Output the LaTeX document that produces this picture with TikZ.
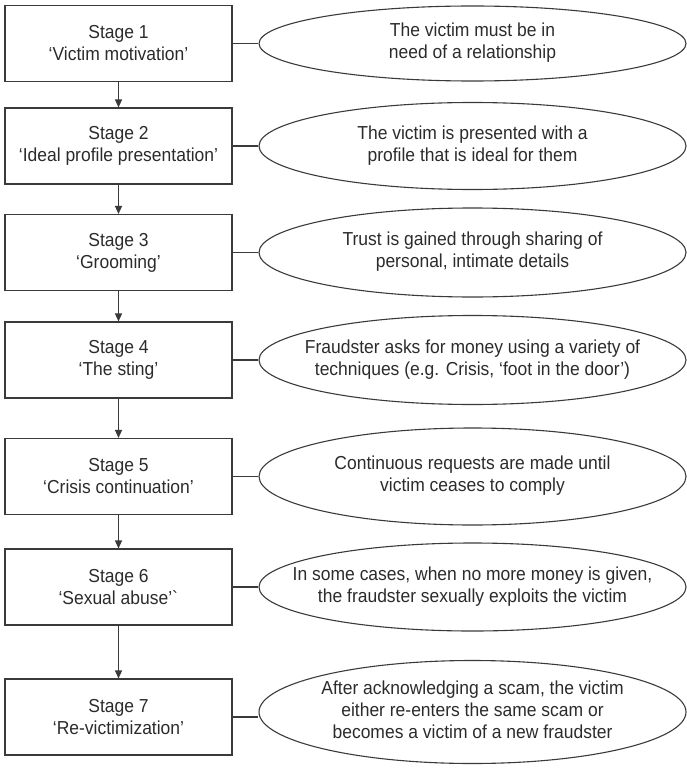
\documentclass[tikz,border=0pt]{standalone}
\usepackage{fontspec}
\setmainfont{Liberation Sans}[FakeStretch=0.93]
\usetikzlibrary{arrows.meta,shapes.geometric}

\definecolor{linegray}{HTML}{3A3A3A}
\definecolor{textgray}{HTML}{2B2B2B}

% text of a bubble, kept out of the ellipse's size
\newcommand{\bubbletext}[1]{\makebox[0pt]{\begin{tabular}{@{}c@{}}#1\end{tabular}}}

\tikzset{
  stagebox/.style={draw=linegray, line width=1.1pt, minimum width=227pt,
    minimum height=76pt, inner sep=0pt, align=center, text=textgray},
  notebubble/.style={ellipse, draw=linegray, line width=1.1pt,
    minimum width=427pt, inner sep=0pt, text=textgray},
  flow/.style={draw=linegray, line width=1.1pt, -{Triangle[length=8pt,width=7pt]}},
  link/.style={draw=linegray, line width=1.1pt}
}

\begin{document}
\begin{tikzpicture}[x=1pt, y=-1pt, font=\fontsize{18.8}{22}\selectfont]
  \useasboundingbox (0,0) rectangle (687,773);

  % stages
  \node[stagebox] (s1) at (118.5,43.5) {Stage 1\\‘Victim motivation’};
  \node[stagebox] (s2) at (118.5,146) {Stage 2\\‘Ideal profile presentation’};
  \node[stagebox] (s3) at (118.5,252.5) {Stage 3\\‘Grooming’};
  \node[stagebox] (s4) at (118.5,360) {Stage 4\\‘The sting’};
  \node[stagebox] (s5) at (118.5,476.5) {Stage 5\\‘Crisis continuation’};
  \node[stagebox] (s6) at (118.5,587) {Stage 6\\‘Sexual abuse’\textasciigrave};
  \node[stagebox] (s7) at (118.5,717) {Stage 7\\‘Re-victimization’};

  % descriptions
  \node[notebubble, minimum height=75pt] (e1) at (472.5,43.5)
    {\bubbletext{The victim must be in\\need of a relationship}};
  \node[notebubble, minimum height=87pt] (e2) at (472.5,146)
    {\bubbletext{The victim is presented with a\\profile that is ideal for them}};
  \node[notebubble, minimum height=89pt] (e3) at (472.5,252.5)
    {\bubbletext{Trust is gained through sharing of\\personal, intimate details}};
  \node[notebubble, minimum height=89pt] (e4) at (472.5,360)
    {\bubbletext{Fraudster asks for money using a variety of\\techniques (e.g. Crisis, ‘foot in the door’)}};
  \node[notebubble, minimum height=97pt] (e5) at (472.5,476.5)
    {\bubbletext{Continuous requests are made until\\victim ceases to comply}};
  \node[notebubble, minimum height=88pt] (e6) at (472.5,587)
    {\bubbletext{In some cases, when no more money is given,\\the fraudster sexually exploits the victim}};
  \node[notebubble, minimum height=103pt] (e7) at (472.5,712)
    {\bubbletext{After acknowledging a scam, the victim\\either re-enters the same scam or\\becomes a victim of a new fraudster}};

  \foreach \a/\b in {s1/s2,s2/s3,s3/s4,s4/s5,s5/s6,s6/s7}
    \draw[flow] (\a) -- (\b);
  \foreach \i in {1,...,7}
    \draw[link] (s\i.east) -- (s\i.east -| e\i.west);
\end{tikzpicture}
\end{document}
